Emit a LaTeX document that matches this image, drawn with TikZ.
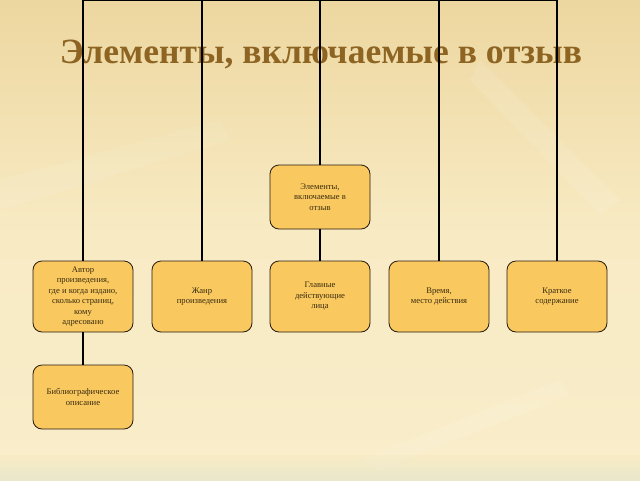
\documentclass[tikz,border=0pt]{standalone}
\usepackage{fontspec}
\setmainfont{Liberation Serif}
\begin{document}
\begin{tikzpicture}[x=1pt,y=-1pt,
  box/.style={draw=black!80!brown, line width=0.8pt, fill=boxfill, rounded corners=9pt,
    minimum width=100pt, minimum height=71pt, align=center, text=boxtext,
    font=\fontsize{8.6}{10.5}\selectfont, inner sep=1pt},
  link/.style={line width=1.6pt, black}]
\definecolor{boxfill}{HTML}{F9C95F}
\definecolor{boxtext}{HTML}{3A2A10}
\definecolor{titlec}{HTML}{8E6423}
\definecolor{bgtop}{HTML}{EDD7A0}
\definecolor{bgmid}{HTML}{F8EBC4}
\definecolor{bgbot}{HTML}{E9E7CB}
\useasboundingbox (0,0) rectangle (640,480);
\shade[top color=bgtop, bottom color=bgmid] (0,0) rectangle (640,240);
\shade[top color=bgmid, bottom color=bgmid!90!white] (0,240) rectangle (640,455);
\shade[top color=bgmid, bottom color=bgbot] (0,455) rectangle (640,480);
% faint leaf shapes
\fill[white, opacity=0.1] (480,60) -- (620,200) -- (600,215) -- (470,80) -- cycle;
\fill[white, opacity=0.08] (0,180) -- (220,120) -- (230,140) -- (0,210) -- cycle;
\fill[white, opacity=0.08] (360,460) -- (560,380) -- (570,395) -- (380,470) -- cycle;
\node[font=\fontsize{35.5}{40}\selectfont\bfseries, text=titlec] (title) at (321,54) {Элементы, включаемые в отзыв};
\coordinate (t1) at (83,0);
\coordinate (t2) at (202,0);
\coordinate (t3) at (320,0);
\coordinate (t4) at (439,0);
\coordinate (t5) at (557,0);
\node[box, minimum height=64pt] (root) at (320,197) {Элементы,\\включаемые в\\отзыв};
\node[box] (a) at (83,296.5) {Автор\\произведения,\\где и когда издано,\\сколько страниц,\\кому\\адресовано};
\node[box] (b) at (202,296.5) {Жанр\\произведения};
\node[box] (c) at (320,296.5) {Главные\\действующие\\лица};
\node[box] (d) at (439,296.5) {Время,\\место действия};
\node[box] (e) at (557,296.5) {Краткое\\содержание};
\node[box, minimum height=64pt] (f) at (83,397) {Библиографическое\\описание};
\draw[link] (t1) -- (t5);
\draw[link] (t1) -- (a.north);
\draw[link] (t2) -- (b.north);
\draw[link] (t3) -- (root.north);
\draw[link] (root.south) -- (c.north);
\draw[link] (t4) -- (d.north);
\draw[link] (t5) -- (e.north);
\draw[link] (a.south) -- (f.north);
\end{tikzpicture}
\end{document}
